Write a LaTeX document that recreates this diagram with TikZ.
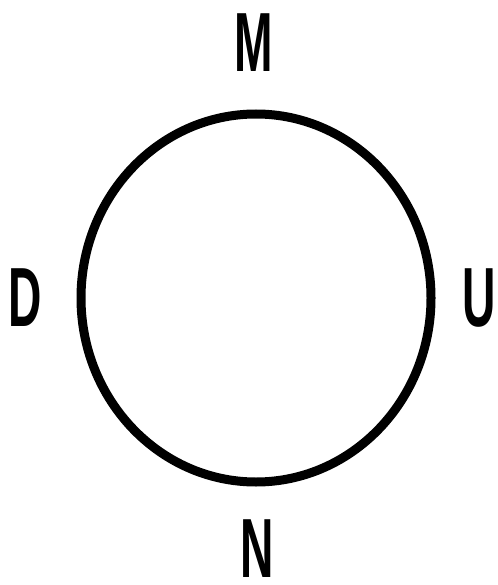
\documentclass[tikz,border=0pt]{standalone}
\usepackage{fontspec}
\setmainfont{Liberation Sans}
\tikzset{
  lbl/.style={font=\fontsize{84}{84}\selectfont\bfseries, inner sep=0pt, text depth=0pt, xscale=0.55},
  ring/.style={line width=9pt, draw=black}
}
\begin{document}
\begin{tikzpicture}[x=1pt,y=-1pt]
\useasboundingbox (0,0) rectangle (497,585);
\draw[ring] (256,298) ellipse [x radius=175, y radius=184];
\node[lbl] (m) at (254,43) {M};
\node[lbl] (d) at (25,298) {D};
\node[lbl] (u) at (479,298) {U};
\node[lbl] (n) at (257,549) {N};
\end{tikzpicture}
\end{document}
